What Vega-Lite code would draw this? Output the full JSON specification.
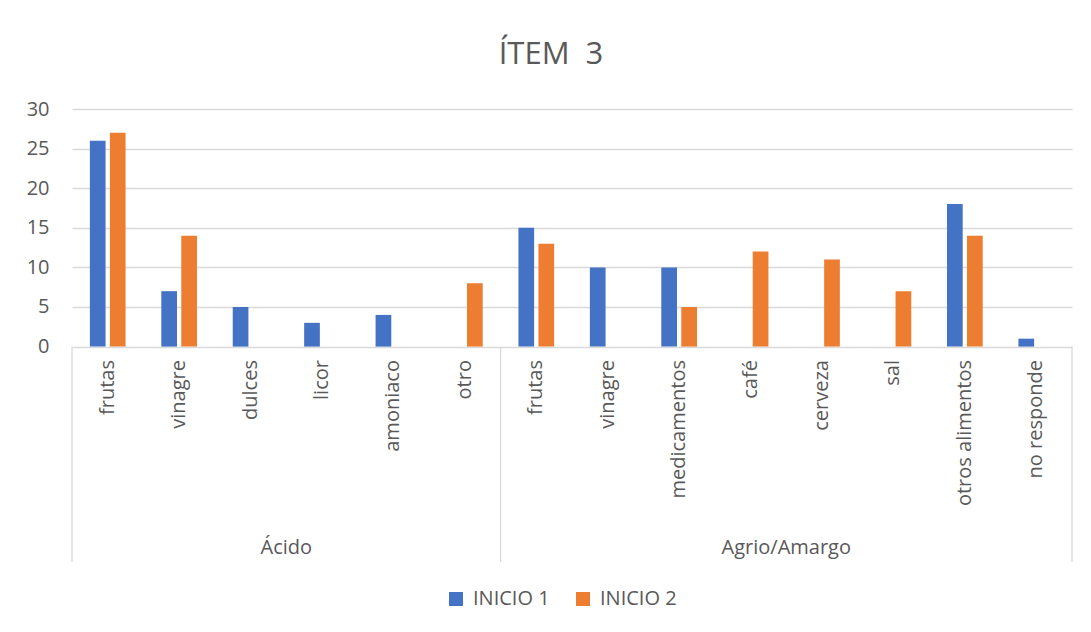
{
  "$schema": "https://vega.github.io/schema/vega-lite/v6.json",
  "width": 1000,
  "height": 453,
  "autosize": {"type": "none"},
  "padding": {"left": 72, "top": 109, "right": 19, "bottom": 70},
  "background": "white",
  "config": {"view": {"stroke": null}, "font": "Open Sans"},
  "title": {"text": "ÍTEM \u00a03", "fontSize": 31, "font": "Open Sans", "fontWeight": "normal", "color": "#595959", "anchor": "middle", "offset": 44, "dx": -21, "dy": 40, "baseline": "alphabetic"},
  "datasets": {
    "valores": [
      {"grupo": "Ácido", "sub": "frutas", "cat": "Ácido|frutas", "serie": "INICIO 1", "valor": 26},
      {"grupo": "Ácido", "sub": "frutas", "cat": "Ácido|frutas", "serie": "INICIO 2", "valor": 27},
      {"grupo": "Ácido", "sub": "vinagre", "cat": "Ácido|vinagre", "serie": "INICIO 1", "valor": 7},
      {"grupo": "Ácido", "sub": "vinagre", "cat": "Ácido|vinagre", "serie": "INICIO 2", "valor": 14},
      {"grupo": "Ácido", "sub": "dulces", "cat": "Ácido|dulces", "serie": "INICIO 1", "valor": 5},
      {"grupo": "Ácido", "sub": "dulces", "cat": "Ácido|dulces", "serie": "INICIO 2", "valor": 0},
      {"grupo": "Ácido", "sub": "licor", "cat": "Ácido|licor", "serie": "INICIO 1", "valor": 3},
      {"grupo": "Ácido", "sub": "licor", "cat": "Ácido|licor", "serie": "INICIO 2", "valor": 0},
      {"grupo": "Ácido", "sub": "amoniaco", "cat": "Ácido|amoniaco", "serie": "INICIO 1", "valor": 4},
      {"grupo": "Ácido", "sub": "amoniaco", "cat": "Ácido|amoniaco", "serie": "INICIO 2", "valor": 0},
      {"grupo": "Ácido", "sub": "otro", "cat": "Ácido|otro", "serie": "INICIO 1", "valor": 0},
      {"grupo": "Ácido", "sub": "otro", "cat": "Ácido|otro", "serie": "INICIO 2", "valor": 8},
      {"grupo": "Agrio/Amargo", "sub": "frutas", "cat": "Agrio/Amargo|frutas", "serie": "INICIO 1", "valor": 15},
      {"grupo": "Agrio/Amargo", "sub": "frutas", "cat": "Agrio/Amargo|frutas", "serie": "INICIO 2", "valor": 13},
      {"grupo": "Agrio/Amargo", "sub": "vinagre", "cat": "Agrio/Amargo|vinagre", "serie": "INICIO 1", "valor": 10},
      {"grupo": "Agrio/Amargo", "sub": "vinagre", "cat": "Agrio/Amargo|vinagre", "serie": "INICIO 2", "valor": 0},
      {"grupo": "Agrio/Amargo", "sub": "medicamentos", "cat": "Agrio/Amargo|medicamentos", "serie": "INICIO 1", "valor": 10},
      {"grupo": "Agrio/Amargo", "sub": "medicamentos", "cat": "Agrio/Amargo|medicamentos", "serie": "INICIO 2", "valor": 5},
      {"grupo": "Agrio/Amargo", "sub": "café", "cat": "Agrio/Amargo|café", "serie": "INICIO 1", "valor": 0},
      {"grupo": "Agrio/Amargo", "sub": "café", "cat": "Agrio/Amargo|café", "serie": "INICIO 2", "valor": 12},
      {"grupo": "Agrio/Amargo", "sub": "cerveza", "cat": "Agrio/Amargo|cerveza", "serie": "INICIO 1", "valor": 0},
      {"grupo": "Agrio/Amargo", "sub": "cerveza", "cat": "Agrio/Amargo|cerveza", "serie": "INICIO 2", "valor": 11},
      {"grupo": "Agrio/Amargo", "sub": "sal", "cat": "Agrio/Amargo|sal", "serie": "INICIO 1", "valor": 0},
      {"grupo": "Agrio/Amargo", "sub": "sal", "cat": "Agrio/Amargo|sal", "serie": "INICIO 2", "valor": 7},
      {"grupo": "Agrio/Amargo", "sub": "otros alimentos", "cat": "Agrio/Amargo|otros alimentos", "serie": "INICIO 1", "valor": 18},
      {"grupo": "Agrio/Amargo", "sub": "otros alimentos", "cat": "Agrio/Amargo|otros alimentos", "serie": "INICIO 2", "valor": 14},
      {"grupo": "Agrio/Amargo", "sub": "no responde", "cat": "Agrio/Amargo|no responde", "serie": "INICIO 1", "valor": 1},
      {"grupo": "Agrio/Amargo", "sub": "no responde", "cat": "Agrio/Amargo|no responde", "serie": "INICIO 2", "valor": 0}
    ],
    "grupos": [
      {"grupo": "Ácido", "cat": "Ácido|licor"},
      {"grupo": "Agrio/Amargo", "cat": "Agrio/Amargo|cerveza"}
    ],
    "separadores": [
      {"cat": "Ácido|frutas"},
      {"cat": "Agrio/Amargo|frutas"}
    ],
    "fin": [
      {"cat": "Agrio/Amargo|no responde"}
    ]
  },
  "layer": [
    {
      "data": {"name": "valores"},
      "mark": {"type": "bar"},
      "encoding": {
        "x": {"field": "cat", "type": "nominal", "axis": null,
              "scale": {"domain": ["Ácido|frutas", "Ácido|vinagre", "Ácido|dulces", "Ácido|licor", "Ácido|amoniaco", "Ácido|otro", "Agrio/Amargo|frutas", "Agrio/Amargo|vinagre", "Agrio/Amargo|medicamentos", "Agrio/Amargo|café", "Agrio/Amargo|cerveza", "Agrio/Amargo|sal", "Agrio/Amargo|otros alimentos", "Agrio/Amargo|no responde"], "paddingInner": 0, "paddingOuter": 0}},
        "xOffset": {"field": "serie", "type": "nominal", "scale": {"domain": ["INICIO 1", "INICIO 2"], "paddingInner": 0.215, "paddingOuter": 0.893}},
        "y": {"field": "valor", "type": "quantitative",
              "scale": {"domain": [-27.2, 30], "nice": false},
              "axis": {"values": [0, 5, 10, 15, 20, 25, 30], "grid": true, "gridColor": "#d9d9d9", "gridWidth": 1.3, "domain": false, "ticks": false, "labelFontSize": 20, "labelColor": "#595959", "labelFont": "Open Sans", "labelPadding": 23, "title": null}},
        "y2": {"datum": 0},
        "color": {"field": "serie", "type": "nominal",
                  "scale": {"domain": ["INICIO 1", "INICIO 2"], "range": ["#4472C4", "#ED7D31"]},
                  "legend": {"orient": "none", "legendX": 374, "legendY": 480, "direction": "horizontal", "title": null, "symbolType": "square", "symbolSize": 196, "symbolStrokeWidth": 0, "labelFontSize": 20, "labelColor": "#595959", "labelFont": "Open Sans", "columnPadding": 23, "labelOffset": 7, "padding": 0}}
      }
    },
    {
      "data": {"name": "separadores"},
      "mark": {"type": "rule", "color": "#d9d9d9", "strokeWidth": 1.3},
      "encoding": {
        "x": {"field": "cat", "type": "nominal", "bandPosition": 0},
        "y": {"datum": 0},
        "y2": {"datum": -27.2}
      }
    },
    {
      "data": {"name": "fin"},
      "mark": {"type": "rule", "color": "#d9d9d9", "strokeWidth": 1.3},
      "encoding": {
        "x": {"field": "cat", "type": "nominal", "bandPosition": 1},
        "y": {"datum": 0},
        "y2": {"datum": -27.2}
      }
    },
    {
      "data": {"name": "valores"},
      "transform": [{"filter": "datum.serie === 'INICIO 1'"}],
      "mark": {"type": "text", "angle": 270, "align": "right", "baseline": "middle", "fontSize": 20, "font": "Open Sans", "color": "#595959"},
      "encoding": {
        "x": {"field": "cat", "type": "nominal"},
        "y": {"datum": -1.7},
        "text": {"field": "sub"}
      }
    },
    {
      "data": {"name": "grupos"},
      "mark": {"type": "text", "align": "center", "baseline": "alphabetic", "fontSize": 20, "font": "Open Sans", "color": "#595959"},
      "encoding": {
        "x": {"field": "cat", "type": "nominal", "bandPosition": 0},
        "y": {"datum": -26.2},
        "text": {"field": "grupo"}
      }
    }
  ]
}
